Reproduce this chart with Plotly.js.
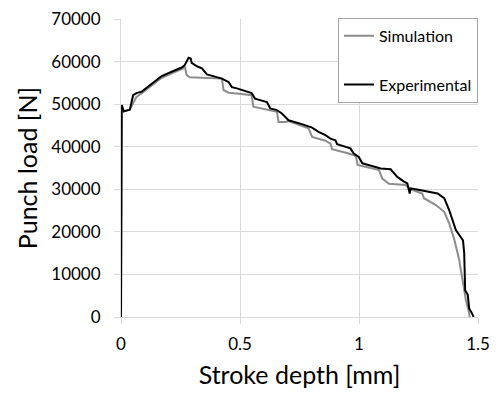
<!DOCTYPE html>
<html>
<head>
<meta charset="utf-8">
<script src="https://cdn.plot.ly/plotly-3.0.1.min.js"></script>
<style>html,body{margin:0;padding:0;background:#fff;}#chart{width:500px;height:394px;}</style>
</head>
<body>
<div id="chart"></div>
<script>
// Stroke depth [mm] and punch load [N]
const simX = [0, 0.003, 0.009, 0.037, 0.065, 0.086, 0.171, 0.255, 0.269, 0.276, 0.290, 0.340, 0.424, 0.431, 0.452, 0.487, 0.549, 0.556, 0.613, 0.655, 0.662, 0.690, 0.704, 0.788, 0.803, 0.859, 0.880, 0.887, 0.957, 0.987, 0.994, 1.084, 1.098, 1.126, 1.196, 1.217, 1.266, 1.273, 1.323, 1.358, 1.379, 1.401, 1.421, 1.435, 1.449, 1.463, 1.465];
const simY = [0, 48000, 48300, 48700, 51700, 52500, 56200, 58200, 58600, 56800, 56300, 56200, 56000, 53300, 52700, 52500, 52100, 49400, 48700, 48200, 45800, 45800, 46000, 44300, 42300, 41400, 40700, 39400, 38400, 37800, 35700, 34500, 32500, 31300, 31000, 30000, 29000, 27900, 26300, 24700, 22000, 18100, 13400, 8700, 4000, 900, 0];

const expX = [0, 0.003, 0.012, 0.037, 0.051, 0.065, 0.086, 0.129, 0.171, 0.213, 0.255, 0.267, 0.284, 0.293, 0.297, 0.319, 0.340, 0.361, 0.382, 0.424, 0.452, 0.466, 0.487, 0.508, 0.549, 0.563, 0.613, 0.627, 0.655, 0.676, 0.704, 0.760, 0.803, 0.830, 0.859, 0.880, 0.901, 0.908, 0.943, 0.964, 0.978, 0.999, 1.014, 1.041, 1.070, 1.091, 1.133, 1.147, 1.161, 1.189, 1.203, 1.213, 1.217, 1.238, 1.295, 1.330, 1.358, 1.379, 1.407, 1.428, 1.437, 1.442, 1.446, 1.457, 1.463, 1.478, 1.481];
const expY = [0, 49800, 48300, 48700, 52100, 52600, 52900, 54800, 56600, 57600, 58600, 59100, 60900, 60700, 59700, 58900, 58400, 57000, 56700, 56000, 55200, 54000, 53700, 53300, 52600, 51300, 50500, 49000, 48600, 47800, 46200, 45300, 44500, 43500, 42700, 41900, 41500, 40600, 40000, 39600, 38400, 37600, 36100, 35700, 35300, 34900, 34700, 33700, 32900, 31800, 31400, 29000, 30200, 30000, 29400, 29000, 27900, 25100, 20400, 18800, 18000, 15000, 6300, 5200, 2000, 500, 0];

const xTicks = [0, 0.5, 1, 1.5];
const xTickText = ['0', '0.5', '1', '1.5'];
const yTicks = [0, 10000, 20000, 30000, 40000, 50000, 60000, 70000];
const yTickText = ['0', '10000', '20000', '30000', '40000', '50000', '60000', '70000'];

const FONT = 'Lato, "Open Sans", sans-serif';

const traces = [
  {x: simX, y: simY, name: 'Simulation', type: 'scatter', mode: 'lines',
   line: {color: '#8c8c8c', width: 2}, legendgroup: 'a'},
  {x: expX, y: expY, name: 'Experimental', type: 'scatter', mode: 'lines',
   line: {color: '#000000', width: 2}, legendgroup: 'b'}
];

const layout = {
  width: 500, height: 394,
  margin: {l: 121, r: 22, t: 19, b: 77},
  paper_bgcolor: '#ffffff', plot_bgcolor: '#ffffff',
  font: {family: FONT, size: 17, color: '#000'},
  showlegend: true,
  legend: {
    x: 1, xanchor: 'right', y: 1.004, yanchor: 'top',
    bgcolor: '#ffffff', bordercolor: '#a6a6a6', borderwidth: 1,
    font: {family: FONT, size: 16, color: '#000'},
    traceorder: 'grouped', tracegroupgap: 25
  },
  xaxis: {
    range: [0, 1.5], tickvals: xTicks, ticktext: xTickText,
    showgrid: true, gridcolor: '#d9d9d9', gridwidth: 1,
    showline: true, linecolor: '#d9d9d9', linewidth: 1, mirror: false,
    ticks: 'outside', ticklen: 6, tickcolor: '#d9d9d9',
    zeroline: false, tickfont: {family: FONT, size: 17},
    ticklabelstandoff: 6,
    title: {text: 'Stroke depth [mm]', font: {family: FONT, size: 25}, standoff: 13}
  },
  yaxis: {
    range: [0, 70000], tickvals: yTicks, ticktext: yTickText,
    showgrid: true, gridcolor: '#d9d9d9', gridwidth: 1,
    showline: true, linecolor: '#d9d9d9', linewidth: 1,
    ticks: 'outside', ticklen: 6, tickcolor: '#d9d9d9',
    zeroline: false, tickfont: {family: FONT, size: 17},
    ticklabelstandoff: 10,
    title: {text: 'Punch load [N]', font: {family: FONT, size: 25}, standoff: 6}
  }
};

Plotly.newPlot('chart', traces, layout, {displayModeBar: false, staticPlot: true});
</script>
</body>
</html>
